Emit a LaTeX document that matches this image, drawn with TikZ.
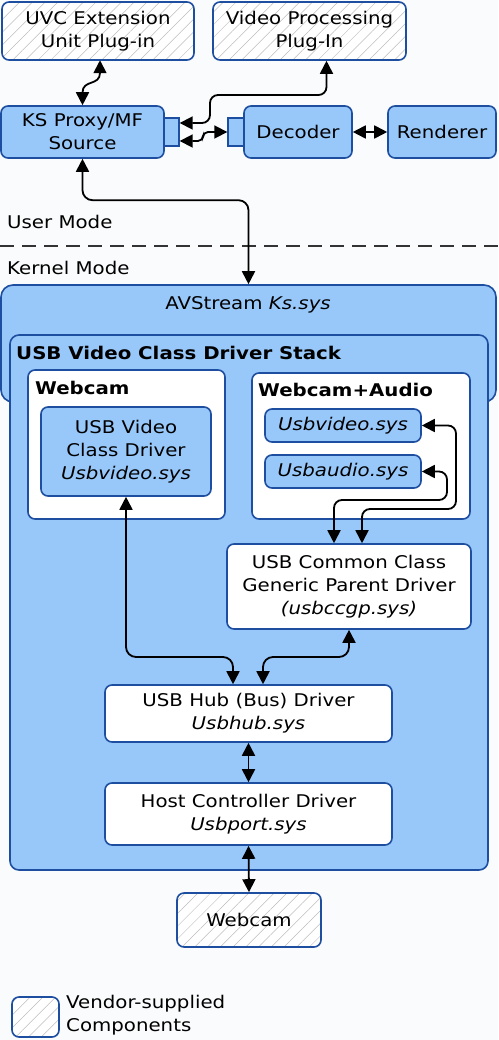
\documentclass[tikz,border=0pt]{standalone}
\usepackage{fontspec}
\setmainfont{DejaVu Sans}[FakeStretch=1.13]
\usetikzlibrary{arrows.meta,patterns.meta,calc}
\definecolor{bdr}{RGB}{30,78,160}
\definecolor{lb}{RGB}{152,200,250}
\definecolor{bg}{RGB}{250,251,252}
\definecolor{hatch}{RGB}{190,190,190}
\begin{document}
\begin{tikzpicture}[x=1pt,y=-1pt,
  every node/.style={font=\fontsize{17.5}{23}\selectfont, inner sep=0pt, align=center},
  blk/.style={draw=bdr, line width=1.6pt, rounded corners=7pt, fill=lb},
  wblk/.style={blk, fill=white},
  vend/.style={draw=bdr, line width=1.6pt, rounded corners=7pt, preaction={fill=white},
     pattern={Lines[angle=45,distance=9pt,line width=0.5pt]}, pattern color=hatch},
  port/.style={draw=bdr, line width=1.4pt, fill=lb},
  ttl/.style={font=\fontsize{17.5}{23}\selectfont\bfseries, anchor=west},
  lbl/.style={anchor=west},
  dbl/.style={{Triangle[length=13pt,width=13pt]}-{Triangle[length=13pt,width=13pt]}, line width=1.8pt, black},
]
\path[fill=bg] (0,0) rectangle (498,1040);
\useasboundingbox (0,0) rectangle (498,1040);

% top row
\node[vend, minimum width=192pt, minimum height=58pt] (uvc) at (98,31) {UVC Extension\\Unit Plug-in};
\node[vend, minimum width=193pt, minimum height=58pt] (vpp) at (309.5,31) {Video Processing\\Plug-In};

\node[blk, minimum width=163pt, minimum height=52pt] (ks) at (82.5,132) {KS Proxy/MF\\Source};
\node[port, minimum width=15pt, minimum height=28pt] (ksport) at (171.5,132) {};
\node[blk, minimum width=108pt, minimum height=52pt] (dec) at (298,132) {Decoder};
\node[port, minimum width=16pt, minimum height=28pt] (decport) at (236,132) {};
\node[blk, minimum width=108pt, minimum height=52pt] (ren) at (442,132) {Renderer};

% mode labels
\node[lbl] (um) at (7,222) {User Mode};
\coordinate (dl) at (0,246);
\coordinate (dr) at (498,246);
\draw[line width=1.6pt, black!80, dash pattern=on 14pt off 8pt] (dl) -- (dr);
\node[lbl] (km) at (7,268) {Kernel Mode};

% AVStream & stack
\node[blk, minimum width=495pt, minimum height=117pt, rounded corners=12pt] (avs) at (248.5,343.5) {};
\node (avslabel) at (248,305) {AVStream \textit{Ks.sys}};
\node[blk, minimum width=478pt, minimum height=535pt, rounded corners=9pt] (stack) at (249,602.5) {};
\node[ttl] (stacklabel) at (16,353) {USB Video Class Driver Stack};

\node[wblk, minimum width=197pt, minimum height=149pt] (wgrp) at (126.5,444.5) {};
\node[ttl] (wgrplabel) at (35,388) {Webcam};
\node[blk, minimum width=170pt, minimum height=89pt] (uvd) at (126,451.5) {USB Video\\Class Driver\\\textit{Usbvideo.sys}};

\node[wblk, minimum width=218pt, minimum height=146pt] (wagrp) at (361,446) {};
\node[ttl] (wagrplabel) at (258,390) {Webcam+Audio};
\node[blk, minimum width=156pt, minimum height=33pt] (usbv) at (343,425.5) {\textit{Usbvideo.sys}};
\node[blk, minimum width=156pt, minimum height=33pt] (usba) at (343,471.5) {\textit{Usbaudio.sys}};

\node[wblk, minimum width=244pt, minimum height=85pt] (ccgp) at (349,586.5) {USB Common Class\\Generic Parent Driver\\\textit{(usbccgp.sys)}};
\node[wblk, minimum width=287pt, minimum height=57pt] (hub) at (248.5,713.5) {USB Hub (Bus) Driver\\\textit{Usbhub.sys}};
\node[wblk, minimum width=287pt, minimum height=62pt] (hcd) at (248.5,814) {Host Controller Driver\\\textit{Usbport.sys}};

\node[vend, minimum width=144pt, minimum height=54pt] (wc) at (249,920) {Webcam};

% legend
\node[vend, minimum width=47pt, minimum height=40pt] (leg) at (35.5,1017) {};
\node[lbl, align=left] (legtext) at (66,1015) {Vendor-supplied\\Components};

% connectors
\coordinate (vppin) at ($(vpp.south)+(17,0)$);
\coordinate (vppbend) at (326.5,95);
\draw[dbl] (ks.north) .. controls +(0,-26) and +(0,26) .. ($(uvc.south)+(2,0)$);
\draw[dbl, rounded corners=8pt] ($(ksport.east)+(0,-9)$) -- (210,123) -- (210,95) -- (vppbend) -- (vppin);
\draw[dbl, rounded corners=5pt] ($(ksport.east)+(0,9)$) -- (203,141) -- (203,132) -- (decport.west);
\draw[dbl] (dec.east) -- (ren.west);
\draw[dbl, rounded corners=10pt] (ks.south) |- ($(avs.north)+(0,-84)$) -- (avs.north);

\draw[dbl, rounded corners=8pt] (usbv.east) -| (456,509) -- (362,509) -- ($(ccgp.north)+(13,0)$);
\draw[dbl, rounded corners=8pt] (usba.east) -| (447,500) -- (334,500) -- ($(ccgp.north)+(-15,0)$);

\draw[dbl, rounded corners=10pt] (uvd.south) |- (233,657) -- ($(hub.north)+(-15.5,0)$);
\draw[dbl, rounded corners=10pt] (ccgp.south) |- (263,657) -- ($(hub.north)+(14.5,0)$);
\draw[dbl] (hub.south) -- (hcd.north);
\draw[dbl] (hcd.south) -- (wc.north);
\end{tikzpicture}
\end{document}
